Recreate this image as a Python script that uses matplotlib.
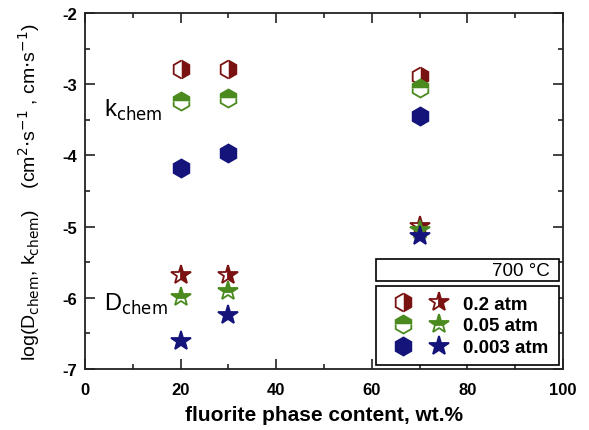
import numpy as np
import matplotlib.pyplot as plt
from matplotlib.legend_handler import HandlerTuple
from matplotlib.patches import Rectangle

plt.rcParams['font.family'] = ['Liberation Sans', 'DejaVu Sans']
plt.rcParams['axes.unicode_minus'] = False

# fluorite phase content, wt.%
content = [20, 30, 70]

# log k_chem (cm/s)
k_02 = [-2.79, -2.79, -2.88]
k_005 = [-3.23, -3.19, -3.06]
k_0003 = [-4.17, -3.97, -3.45]

# log D_chem (cm2/s)
d_02 = [-5.68, -5.68, -4.99]
d_005 = [-5.99, -5.90, -5.05]
d_0003 = [-6.60, -6.24, -5.13]

pressures = ['0.2 atm', '0.05 atm', '0.003 atm']
colors = ['#7a1212', '#4a8a1e', '#14147a']
fills = ['right', 'top', 'full']

fig = plt.figure(figsize=(5.89, 4.31), dpi=100)
ax = fig.add_axes([0.1443, 0.1415, 0.8115, 0.826])

handles = []
for kv, dv, c, fs in zip([k_02, k_005, k_0003], [d_02, d_005, d_0003], colors, fills):
    h1, = ax.plot(content, kv, ls='none', marker='h', ms=13, color=c, mec=c,
                  mfc=c, fillstyle=fs, markerfacecoloralt='white', mew=1.3)
    h2, = ax.plot(content, dv, ls='none', marker='*', ms=15, color=c, mec=c,
                  mfc=c, fillstyle=fs, markerfacecoloralt='white', mew=1.3)
    handles.append((h1, h2))

ax.set_xlim(0, 100)
ax.set_ylim(-7, -2)
ax.set_xticks(np.arange(0, 101, 20))
ax.set_xticks(np.arange(0, 101, 10), minor=True)
ax.set_yticks(np.arange(-7, -1.9, 1))
ax.set_yticks(np.arange(-7, -1.9, 0.5), minor=True)
ax.tick_params(which='both', direction='in', top=True, right=True, width=1.2, color='#222222')
ax.tick_params(which='major', length=7, labelsize=12)
ax.tick_params(which='minor', length=3.5)
ax.tick_params(axis='x', which='major', pad=9)
ax.tick_params(axis='y', which='major', pad=6)
for lab in ax.get_xticklabels() + ax.get_yticklabels():
    lab.set_fontweight('bold')
for sp in ax.spines.values():
    sp.set_linewidth(1.3)
    sp.set_color('#222222')

ax.set_xlabel('fluorite phase content, wt.%', fontsize=15, fontweight='bold', labelpad=6)
ax.set_ylabel(r'log(D$_{\mathrm{chem}}$, k$_{\mathrm{chem}}$)    (cm$^2$$\cdot$s$^{-1}$ , cm$\cdot$s$^{-1}$)',
              fontsize=14, labelpad=14)

ax.text(4, -3.35, r'k$_{\mathrm{chem}}$', fontsize=17, va='center')
ax.text(4, -6.08, r'D$_{\mathrm{chem}}$', fontsize=17, va='center')

# temperature box
ax.add_patch(Rectangle((0.608, 0.247), 0.384, 0.062, transform=ax.transAxes,
                       fc='white', ec='black', lw=1.2, zorder=5))
ax.text(0.973, 0.278, '700 °C', transform=ax.transAxes, fontsize=13.5,
        ha='right', va='center', zorder=6)

# legend frame and entries
ax.add_patch(Rectangle((0.608, 0.011), 0.384, 0.222, transform=ax.transAxes,
                       fc='white', ec='black', lw=1.2, zorder=5))
leg = ax.legend(handles, pressures, handler_map={tuple: HandlerTuple(ndivide=None, pad=0.84)},
                loc='center left', bbox_to_anchor=(0.644, 0.121), frameon=False,
                prop={'weight': 'bold', 'size': 13.5}, handlelength=3.0,
                labelspacing=0.25, borderpad=0, borderaxespad=0, handletextpad=0.75)
leg.set_zorder(7)

fig.savefig('out.png', dpi=100)
